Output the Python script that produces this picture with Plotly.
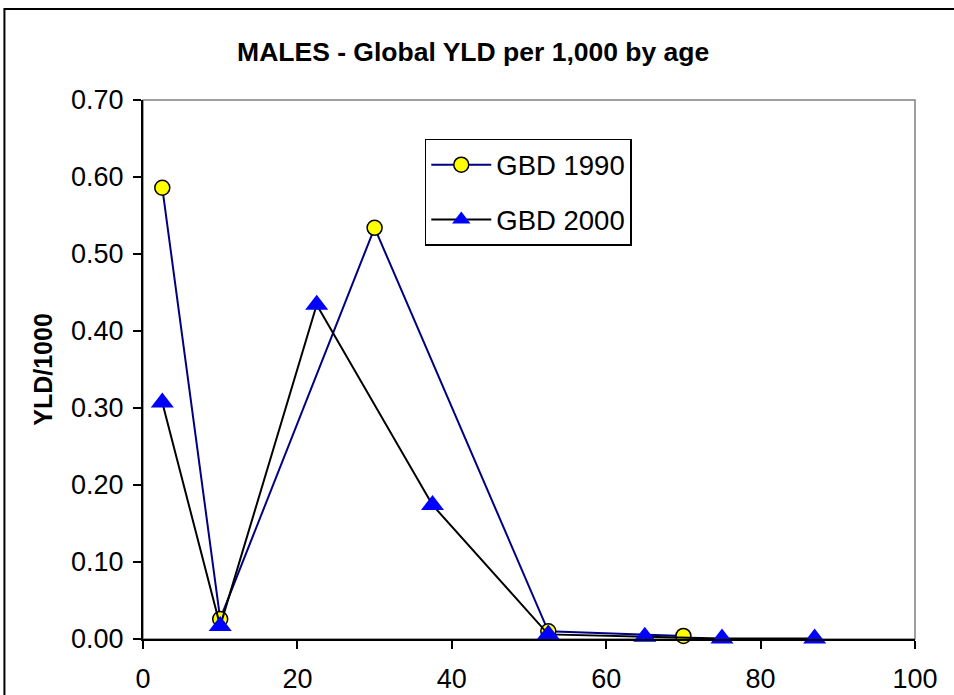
import plotly.graph_objects as go

# Age-group midpoints (years) and YLD per 1,000 for males
age_1990 = [2.5, 10, 30, 52.5, 70]
yld_1990 = [0.586, 0.026, 0.534, 0.010, 0.004]

age_2000 = [2.5, 10, 22.5, 37.5, 52.5, 65, 75, 87]
yld_2000 = [0.307, 0.017, 0.434, 0.174, 0.006, 0.003, 0.0005, 0.0005]

x_ticks = [0, 20, 40, 60, 80, 100]
y_ticks = [0.0, 0.1, 0.2, 0.3, 0.4, 0.5, 0.6, 0.7]

FONT = "Liberation Sans, Arial, sans-serif"

fig = go.Figure()

fig.add_trace(go.Scatter(
    x=age_1990, y=yld_1990, name="GBD 1990", mode="lines+markers",
    legendgroup="g1990",
    line=dict(color="#000080", width=2),
    marker=dict(symbol="circle", size=15, color="#FFFF00",
                line=dict(color="black", width=1.5)),
    cliponaxis=False,
))

fig.add_trace(go.Scatter(
    x=age_2000, y=yld_2000, name="GBD 2000", mode="lines+markers",
    legendgroup="g2000",
    line=dict(color="black", width=2),
    marker=dict(symbol="triangle-up", size=20, color="#0000FF",
                line=dict(color="#0000FF", width=0)),
    cliponaxis=False,
))

# grey frame on top/right of the plotting area
fig.add_shape(type="rect", xref="x domain", yref="y domain",
              x0=0, x1=1, y0=0, y1=1,
              line=dict(color="#808080", width=1.5), layer="below")

# outer chart border
fig.add_shape(type="rect", xref="paper", yref="paper",
              x0=-0.1795, x1=1.2, y0=-0.5, y1=1.1688,
              line=dict(color="black", width=2))

fig.update_layout(
    width=954, height=695,
    margin=dict(l=143, r=39, t=100, b=56),
    paper_bgcolor="white", plot_bgcolor="white",
    font=dict(family=FONT, size=27, color="black"),
    title=dict(text="<b>MALES - Global YLD per 1,000 by age</b>",
               x=0.496, xanchor="center", y=0.925, yanchor="middle",
               font=dict(family=FONT, size=26.5, color="black")),
    showlegend=True,
    legend=dict(x=0.365, y=0.928, xanchor="left", yanchor="top",
                bordercolor="black", borderwidth=1.5, bgcolor="white",
                font=dict(family=FONT, size=27.5, color="black"),
                tracegroupgap=16, itemwidth=60),
)

fig.update_xaxes(
    range=[0, 100], tickvals=x_ticks, ticktext=[str(v) for v in x_ticks],
    showgrid=False, zeroline=False, showline=True, linecolor="black",
    linewidth=2, ticks="outside", ticklen=8, tickwidth=2, tickcolor="black",
    tickfont=dict(family=FONT, size=27), ticklabelstandoff=7,
    automargin=False,
)

fig.update_yaxes(
    range=[0, 0.7], tickvals=y_ticks, ticktext=[f"{v:.2f}" for v in y_ticks],
    showgrid=False, zeroline=False, showline=True, linecolor="black",
    linewidth=2, ticks="outside", ticklen=8, tickwidth=2, tickcolor="black",
    tickfont=dict(family=FONT, size=27), ticklabelstandoff=4,
    automargin=False,
    title=dict(text="<b>YLD/1000</b>", font=dict(family=FONT, size=25), standoff=11),
)

fig.write_html("out.html")
